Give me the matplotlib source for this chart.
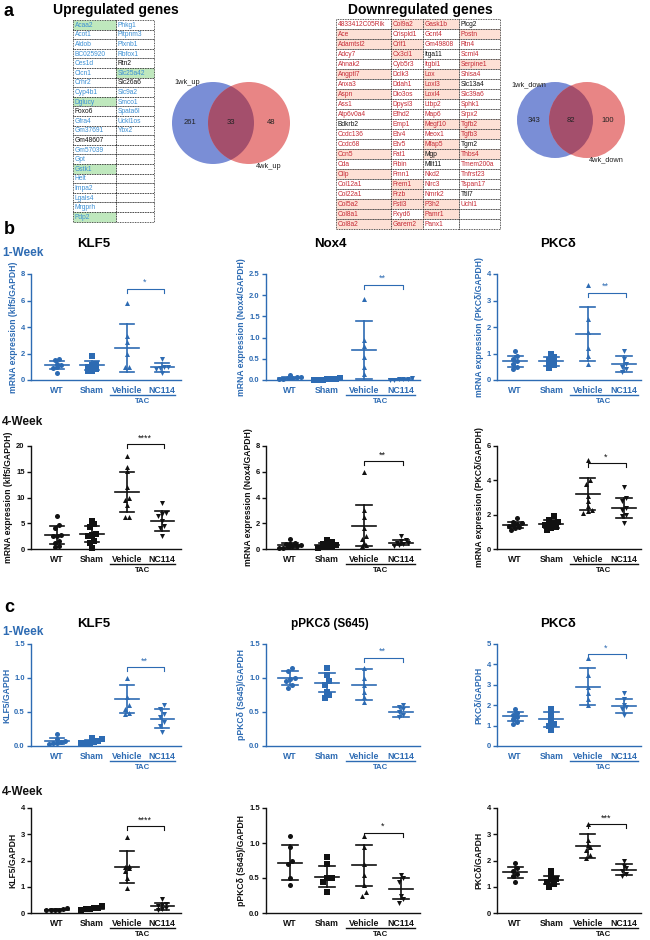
import numpy as np
import matplotlib
matplotlib.use("Agg")
import matplotlib.pyplot as plt
from matplotlib.patches import Rectangle, Circle
from matplotlib import transforms

plt.rcParams['font.family'] = ['Liberation Sans', 'DejaVu Sans']

# ---------------- panel a: gene tables ----------------
up_col1 = ["Acaa2", "Acot1", "Aldob", "BC025920", "Ces1d", "Clcn1", "Crhr2", "Cyp4b1",
           "Dglucy", "Foxo6", "Gfra4", "Gm37691", "Gm48607", "Gm57039", "Gpt", "Gstk1",
           "Helt", "Impa2", "Lgals4", "Mrgprh", "Pdp2"]
up_col2 = ["Phkg1", "Pitpnm3", "Plxnb1", "Rbfox1", "Rtn2", "Slc25a42", "Slc26a6", "Slc9a2",
           "Smco1", "Spata6l", "Uckl1os", "Ybx2"]
up_black = ["Rtn2", "Slc26a6", "Foxo6", "Gm48607"]
up_marked = ["Acaa2", "Dglucy", "Gstk1", "Pdp2", "Slc25a42"]

down_col1 = ["4833412C05Rik", "Ace", "Adamtsl2", "Adcy7", "Ahnak2", "Angptl7", "Anxa3", "Aspn",
             "Ass1", "Atp6v0a4", "Bdkrb2", "Ccdc136", "Ccdc68", "Ccn5", "Cda", "Cilp",
             "Col12a1", "Col22a1", "Col5a2", "Col8a1", "Col8a2"]
down_col2 = ["Col9a2", "Crispld1", "Crlf1", "Cx3cl1", "Cyb5r3", "Dclk3", "Ddah1", "Dio3os",
             "Dpysl3", "Efhd2", "Emp1", "Etv4", "Etv5", "Fat1", "Fibin", "Fmn1", "Frem1",
             "Frzb", "Fstl3", "Fxyd6", "Garem2"]
down_col3 = ["Gask1b", "Gcnt4", "Gm49808", "Itga11", "Itgbl1", "Lox", "Loxl3", "Loxl4", "Ltbp2",
             "Map6", "Megf10", "Meox1", "Mfap5", "Mgp", "Mllt11", "Nkd2", "Nlrc3", "Nmrk2",
             "P3h2", "Pamr1", "Panx1"]
down_col4 = ["Plcg2", "Postn", "Rtn4", "Scml4", "Serpine1", "Shisa4", "Slc13a4", "Slc39a6",
             "Sphk1", "Srpx2", "Tgfb2", "Tgfb3", "Tgm2", "Thbs4", "Tmem200a", "Tnfrsf23",
             "Tspan17", "Ttll7", "Uchl1"]
down_black = ["Bdkrb2", "Itga11", "Mgp", "Mllt11", "Plcg2", "Slc13a4", "Tgm2", "Ttll7"]
down_marked = ["Ace", "Adamtsl2", "Angptl7", "Aspn", "Ccn5", "Cilp", "Col5a2", "Col8a1", "Col8a2",
               "Col9a2", "Crlf1", "Cx3cl1", "Frem1", "Frzb", "Fstl3", "Garem2",
               "Gask1b", "Lox", "Loxl3", "Loxl4", "Megf10", "Mfap5", "Mgp", "P3h2", "Pamr1",
               "Postn", "Serpine1", "Tgfb2", "Tgfb3", "Thbs4"]

venn_up = [261, 33, 48]
venn_down = [343, 82, 100]

# ---------------- panels b, c: dot plots ----------------
groups = ["WT", "Sham", "Vehicle", "NC114"]

b1_klf5 = [[1.6, 1.5, 1.2, 1.1, 1.0, 0.9, 0.5], [1.8, 1.2, 1.1, 1.0, 0.8, 0.7, 0.7],
           [5.8, 3.3, 2.9, 2.0, 1.0, 1.0], [1.6, 1.0, 1.0, 0.9, 0.8, 0.5]]
b1_klf5_mean = [1.1, 1.1, 2.4, 0.95]
b1_klf5_sd = [0.3, 0.35, 1.8, 0.35]

b1_nox4 = [[0.12, 0.08, 0.06, 0.05, 0.04, 0.03, 0.02], [0.04, 0.03, 0.02, 0.02, 0.01, 0.01, 0.01],
           [1.9, 0.95, 0.8, 0.55, 0.3, 0.15], [0.04, 0.03, 0.02, 0.02, 0.01, 0.01]]
b1_nox4_mean = [0.05, 0.02, 0.7, 0.02]
b1_nox4_sd = [0.03, 0.01, 0.68, 0.01]

b1_pkcd = [[1.1, 0.9, 0.8, 0.7, 0.6, 0.5, 0.4], [1.0, 0.85, 0.75, 0.7, 0.6, 0.55, 0.45],
           [3.6, 2.3, 1.8, 1.2, 0.9, 0.6], [1.1, 0.8, 0.6, 0.5, 0.4, 0.3]]
b1_pkcd_mean = [0.7, 0.7, 1.75, 0.62]
b1_pkcd_sd = [0.22, 0.17, 1.02, 0.3]

b2_klf5 = [[6.4, 4.6, 4.0, 2.8, 2.6, 2.5, 1.6, 1.2, 0.5, 0.3], [5.5, 4.8, 4.2, 3.0, 2.8, 2.6, 1.5, 1.2, 0.2],
           [18.0, 16.0, 15.2, 12.0, 10.0, 9.5, 8.5, 6.2, 6.2], [9.0, 7.0, 6.8, 6.5, 5.5, 4.5, 4.0, 2.5]]
b2_klf5_mean = [2.7, 2.9, 11.1, 5.4]
b2_klf5_sd = [1.8, 1.5, 3.9, 1.9]

b2_nox4 = [[0.8, 0.5, 0.4, 0.35, 0.3, 0.25, 0.2, 0.15, 0.1, 0.05], [0.7, 0.55, 0.45, 0.4, 0.3, 0.25, 0.2, 0.15, 0.1],
           [6.0, 3.0, 2.5, 1.6, 1.0, 0.8, 0.5, 0.3, 0.2], [1.0, 0.7, 0.6, 0.5, 0.45, 0.4, 0.3, 0.2]]
b2_nox4_mean = [0.3, 0.32, 1.8, 0.5]
b2_nox4_sd = [0.2, 0.18, 1.6, 0.22]

b2_pkcd = [[1.8, 1.6, 1.5, 1.45, 1.4, 1.35, 1.3, 1.2, 1.1], [1.9, 1.7, 1.6, 1.5, 1.45, 1.4, 1.3, 1.2, 1.1],
           [5.2, 4.0, 3.8, 3.1, 2.8, 2.5, 2.3, 2.2, 2.1], [3.6, 3.0, 2.8, 2.4, 2.3, 2.0, 1.9, 1.5]]
b2_pkcd_mean = [1.4, 1.45, 3.2, 2.4]
b2_pkcd_sd = [0.2, 0.22, 0.95, 0.6]

c1_klf5 = [[0.17, 0.1, 0.08, 0.06, 0.05, 0.04, 0.03], [0.12, 0.1, 0.08, 0.06, 0.05, 0.05, 0.05],
           [1.0, 0.72, 0.6, 0.55, 0.48, 0.47], [0.6, 0.55, 0.47, 0.42, 0.35, 0.3, 0.2]]
c1_klf5_mean = [0.07, 0.07, 0.69, 0.4]
c1_klf5_sd = [0.045, 0.025, 0.21, 0.14]

c1_ppkcd = [[1.15, 1.1, 1.0, 0.98, 0.95, 0.9, 0.85], [1.15, 1.05, 0.95, 0.9, 0.8, 0.75, 0.7],
            [1.15, 1.0, 0.9, 0.8, 0.72, 0.65], [0.6, 0.58, 0.55, 0.5, 0.45, 0.42]]
c1_ppkcd_mean = [1.0, 0.93, 0.9, 0.5]
c1_ppkcd_sd = [0.1, 0.14, 0.23, 0.08]

c1_pkcd = [[1.8, 1.6, 1.5, 1.4, 1.3, 1.2, 1.1], [1.8, 1.6, 1.4, 1.2, 1.1, 1.0, 0.8],
           [4.3, 3.5, 2.9, 2.6, 2.3, 2.0], [2.6, 2.3, 2.0, 1.9, 1.8, 1.5]]
c1_pkcd_mean = [1.45, 1.3, 2.9, 1.95]
c1_pkcd_sd = [0.22, 0.35, 0.9, 0.35]

c2_klf5 = [[0.18, 0.15, 0.13, 0.12, 0.1, 0.1], [0.25, 0.2, 0.18, 0.15, 0.15, 0.12],
           [2.9, 1.8, 1.75, 1.7, 1.6, 1.35, 0.95], [0.52, 0.35, 0.3, 0.25, 0.2, 0.15, 0.1]]
c2_klf5_mean = [0.13, 0.17, 1.75, 0.25]
c2_klf5_sd = [0.03, 0.04, 0.6, 0.13]

c2_ppkcd = [[1.1, 0.95, 0.75, 0.7, 0.5, 0.4], [0.8, 0.7, 0.5, 0.5, 0.45, 0.3],
            [1.1, 0.95, 0.7, 0.55, 0.4, 0.3, 0.25], [0.55, 0.5, 0.45, 0.25, 0.2, 0.15]]
c2_ppkcd_mean = [0.72, 0.52, 0.68, 0.35]
c2_ppkcd_sd = [0.25, 0.15, 0.29, 0.15]

c2_pkcd = [[1.9, 1.7, 1.6, 1.5, 1.4, 1.2], [1.6, 1.4, 1.3, 1.3, 1.2, 1.1, 1.0],
           [3.4, 2.8, 2.6, 2.5, 2.4, 2.2, 2.1], [2.0, 1.8, 1.7, 1.6, 1.5, 1.4]]
c2_pkcd_mean = [1.55, 1.25, 2.55, 1.65]
c2_pkcd_sd = [0.2, 0.15, 0.45, 0.2]

BLUE = "#2d6bb3"
BLACK = "#111111"
W, H = 650, 940

fig = plt.figure(figsize=(6.5, 9.4), dpi=100)
ov = fig.add_axes([0, 0, 1, 1])
ov.set_xlim(0, W)
ov.set_ylim(H, 0)
ov.axis("off")


def px_rect(x0, y0, x1, y1):
    return [x0 / W, 1 - y1 / H, (x1 - x0) / W, (y1 - y0) / H]


def draw_table(cols, edges, top, rh, nrows, black, marked, txtcol, fillcol):
    for ci in range(len(edges) - 1):
        names = cols[ci]
        for ri in range(nrows):
            name = names[ri] if ri < len(names) else ""
            fc = fillcol if name in marked else "white"
            ov.add_patch(Rectangle((edges[ci], top + ri * rh), edges[ci + 1] - edges[ci], rh,
                                   facecolor=fc, edgecolor="#222222", lw=0.6, ls=(0, (1, 1))))
            if name:
                ov.text(edges[ci] + 1.5, top + (ri + 0.55) * rh, name, fontsize=4.8,
                        color=BLACK if name in black else txtcol, va="center", ha="left")


def draw_venn(c1, c2, r, nums, lab1, lab1xy, lab2, lab2xy):
    b = Circle(c1, r, facecolor="#7a8ed6", edgecolor="none")
    rr = Circle(c2, r, facecolor="#e88585", edgecolor="none")
    ov.add_patch(b)
    ov.add_patch(rr)
    inter = Circle(c2, r, facecolor="#a44f6c", edgecolor="none")
    ov.add_patch(inter)
    inter.set_clip_path(b)
    xs = [c1[0] - r * 0.55, (c1[0] + c2[0]) / 2, c2[0] + r * 0.55]
    for x, n in zip(xs, nums):
        ov.text(x, c1[1], str(n), fontsize=5.5, ha="center", va="center", color="#222222")
    ov.text(*lab1xy, lab1, fontsize=5.3, ha="left", va="center", color="#222222")
    ov.text(*lab2xy, lab2, fontsize=5.3, ha="left", va="center", color="#222222")


ov.text(4, 12, "a", fontsize=13, fontweight="bold", va="center")
ov.text(116, 10, "Upregulated genes", fontsize=10, fontweight="bold", ha="center", va="center")
ov.text(420, 10, "Downregulated genes", fontsize=10, fontweight="bold", ha="center", va="center")

draw_table([up_col1, up_col2], [73, 116, 154], 20, 9.6, 21, up_black, up_marked,
           "#3b8fd4", "#bfe8bd")
draw_table([down_col1, down_col2, down_col3, down_col4], [336, 391, 423, 459, 500], 19, 10.0, 21,
           down_black, down_marked, "#c62b36", "#fde0d5")

draw_venn((213, 123), (249, 123), 41, venn_up, "1wk_up", (174, 83), "4wk_up", (256, 167))
draw_venn((555, 120), (587, 120), 38, venn_down, "1wk_down", (511, 85), "4wk_down", (589, 160))

# ---------------- dot plot layout ----------------
col_x = [(31, 181), (266, 420), (497, 641)]
col_xlim = [(-0.74, 3.54), (-0.65, 3.51), (-0.5, 3.47)]
row_y = {"b1": (274, 380), "b2": (446, 549), "c1": (644, 746), "c2": (808, 913)}
markers = ["o", "s", "^", "v"]


def swarm(vals, ymax, step=0.12):
    vals = sorted(vals)
    clusters = []
    for v in vals:
        if clusters and v - clusters[-1][0] < ymax * 0.035:
            clusters[-1].append(v)
        else:
            clusters.append([v])
    xs, ys = [], []
    for cl in clusters:
        n = len(cl)
        for k, v in enumerate(cl):
            xs.append((k - (n - 1) / 2) * step)
            ys.append(v)
    return np.array(xs), np.array(ys)


def dot_panel(row, col, vals, means, sds, ymax, ticks, ticklabels, ylabel, color, sig_y, stars):
    x0, x1 = col_x[col]
    y0, y1 = row_y[row]
    ax = fig.add_axes(px_rect(x0, y0, x1, y1))
    ax.set_xlim(*col_xlim[col])
    ax.set_ylim(0, ymax)
    for i, v in enumerate(vals):
        dx, vy = swarm(v, ymax)
        ax.scatter(i + dx, vy, marker=markers[i], s=13, color=color, zorder=3, clip_on=False,
                   linewidths=0)
        m, s = means[i], sds[i]
        ax.plot([i - 0.33, i + 0.33], [m, m], color=color, lw=1.2, zorder=4)
        ax.plot([i, i], [m - s, m + s], color=color, lw=1.2, zorder=4)
        for yy in (m - s, m + s):
            ax.plot([i - 0.21, i + 0.21], [yy, yy], color=color, lw=1.2, zorder=4)
    for sp in ("top", "right"):
        ax.spines[sp].set_visible(False)
    for sp in ("left", "bottom"):
        ax.spines[sp].set_color(color)
        ax.spines[sp].set_linewidth(1.0)
    ax.set_yticks(ticks)
    ax.set_yticklabels(ticklabels)
    ax.set_xticks(range(4))
    ax.set_xticklabels(groups)
    ax.tick_params(axis="y", length=3, width=1.0, color=color, labelsize=5.5, labelcolor=color, pad=1.5)
    ax.tick_params(axis="x", length=0, labelsize=6.3, labelcolor=color, pad=4)
    for lb in ax.get_xticklabels() + ax.get_yticklabels():
        lb.set_fontweight("bold")
    ax.set_ylabel(ylabel, fontsize=6.2, fontweight="bold", color=color, labelpad=2)
    h = y1 - y0
    tr = transforms.blended_transform_factory(ax.transData, ax.transAxes)
    ax.plot([1.5, 3.38], [-15 / h, -15 / h], color=color, lw=1.0, transform=tr, clip_on=False)
    ax.text(2.45, -21.5 / h, "TAC", fontsize=5.6, fontweight="bold", color=color, transform=tr,
            ha="center", va="center")
    tick = ymax * 4 / h
    ax.plot([2, 2, 3.05, 3.05], [sig_y - tick, sig_y, sig_y, sig_y - tick], color=color, lw=0.8,
            clip_on=False)
    ax.text(2.5, sig_y + ymax * 1.5 / h, stars, fontsize=6.5, color=color, ha="center", va="bottom")
    return ax


dot_panel("b1", 0, b1_klf5, b1_klf5_mean, b1_klf5_sd, 8, [0, 2, 4, 6, 8], ["0", "2", "4", "6", "8"],
          "mRNA expression (klf5/GAPDH)", BLUE, 6.9, "*")
dot_panel("b1", 1, b1_nox4, b1_nox4_mean, b1_nox4_sd, 2.5, [0, 0.5, 1, 1.5, 2, 2.5],
          ["0.0", "0.5", "1.0", "1.5", "2.0", "2.5"], "mRNA expression (Nox4/GAPDH)", BLUE, 2.25, "**")
dot_panel("b1", 2, b1_pkcd, b1_pkcd_mean, b1_pkcd_sd, 4, [0, 1, 2, 3, 4], ["0", "1", "2", "3", "4"],
          "mRNA expression (PKCδ/GAPDH)", BLUE, 3.3, "**")
dot_panel("b2", 0, b2_klf5, b2_klf5_mean, b2_klf5_sd, 20, [0, 5, 10, 15, 20], ["0", "5", "10", "15", "20"],
          "mRNA expression (klf5/GAPDH)", BLACK, 20.4, "****")
dot_panel("b2", 1, b2_nox4, b2_nox4_mean, b2_nox4_sd, 8, [0, 2, 4, 6, 8], ["0", "2", "4", "6", "8"],
          "mRNA expression (Nox4/GAPDH)", BLACK, 6.8, "**")
dot_panel("b2", 2, b2_pkcd, b2_pkcd_mean, b2_pkcd_sd, 6, [0, 2, 4, 6], ["0", "2", "4", "6"],
          "mRNA expression (PKCδ/GAPDH)", BLACK, 5.0, "*")
dot_panel("c1", 0, c1_klf5, c1_klf5_mean, c1_klf5_sd, 1.5, [0, 0.5, 1, 1.5], ["0.0", "0.5", "1.0", "1.5"],
          "KLF5/GAPDH", BLUE, 1.16, "**")
dot_panel("c1", 1, c1_ppkcd, c1_ppkcd_mean, c1_ppkcd_sd, 1.5, [0, 0.5, 1, 1.5], ["0.0", "0.5", "1.0", "1.5"],
          "pPKCδ (S645)/GAPDH", BLUE, 1.3, "**")
dot_panel("c1", 2, c1_pkcd, c1_pkcd_mean, c1_pkcd_sd, 5, [0, 1, 2, 3, 4, 5], ["0", "1", "2", "3", "4", "5"],
          "PKCδ/GAPDH", BLUE, 4.5, "*")
dot_panel("c2", 0, c2_klf5, c2_klf5_mean, c2_klf5_sd, 4, [0, 1, 2, 3, 4], ["0", "1", "2", "3", "4"],
          "KLF5/GAPDH", BLACK, 3.3, "****")
dot_panel("c2", 1, c2_ppkcd, c2_ppkcd_mean, c2_ppkcd_sd, 1.5, [0, 0.5, 1, 1.5], ["0.0", "0.5", "1.0", "1.5"],
          "pPKCδ (S645)/GAPDH", BLACK, 1.15, "*")
dot_panel("c2", 2, c2_pkcd, c2_pkcd_mean, c2_pkcd_sd, 4, [0, 1, 2, 3, 4], ["0", "1", "2", "3", "4"],
          "PKCδ/GAPDH", BLACK, 3.4, "***")

# panel letters, titles, week labels
ov.text(4, 229, "b", fontsize=13, fontweight="bold", va="center")
ov.text(4, 608, "c", fontsize=13, fontweight="bold", va="center")
for y, txt, c in [(253, "1-Week", BLUE), (422, "4-Week", BLACK), (632, "1-Week", BLUE), (792, "4-Week", BLACK)]:
    ov.text(2, y, txt, fontsize=8.5, fontweight="bold", color=c, va="center")
for x, t in [(94, "KLF5"), (330, "Nox4"), (558, "PKCδ")]:
    ov.text(x, 244, t, fontsize=9.5, fontweight="bold", ha="center", va="center")
for x, t in [(94, "KLF5"), (330, "pPKCδ (S645)"), (558, "PKCδ")]:
    ov.text(x, 624, t, fontsize=9.5 if t != "pPKCδ (S645)" else 8.5, fontweight="bold", ha="center", va="center")

fig.savefig("out.png", dpi=100)
